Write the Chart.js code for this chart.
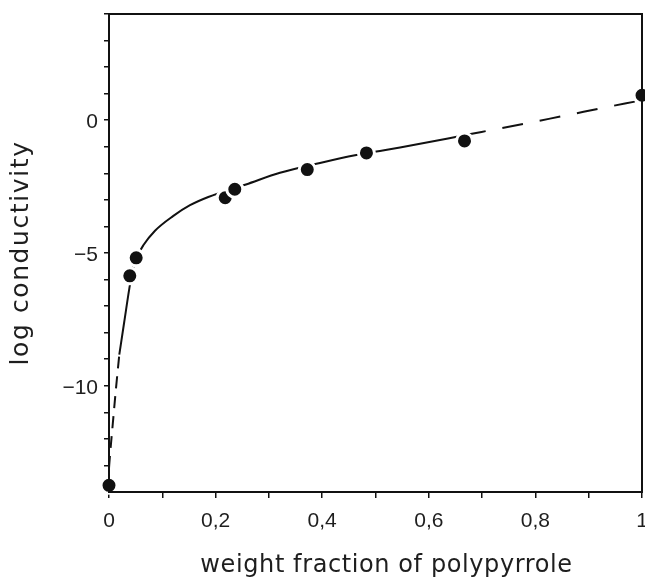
<!DOCTYPE html>
<html><head><meta charset="utf-8">
<script src="https://cdn.jsdelivr.net/npm/chart.js@4/dist/chart.umd.min.js"></script>
<style>html,body{margin:0;padding:0;background:#fff}#wrap{width:645px;height:579px}</style>
</head><body><div id="wrap"><canvas id="c" width="645" height="579"></canvas></div>
<script>
// measured data points
const pointX = [0, 0.039, 0.051, 0.218, 0.236, 0.372, 0.483, 0.667, 1.0];
const pointY = [-13.75, -5.86, -5.18, -2.92, -2.60, -1.86, -1.23, -0.78, 0.94];
// hand-drawn fitted curve
const lowDashX = [0, 0.0013, 0.0071, 0.0131, 0.0193];
const lowDashY = [-13.1, -12.75, -11.43, -10.1, -8.83];
const solidX = [0.0193, 0.0287, 0.0381, 0.0441, 0.0516, 0.0644, 0.0863, 0.1201, 0.152, 0.1863, 0.257, 0.3208, 0.3959, 0.4615, 0.5084, 0.546, 0.636, 0.668];
const solidY = [-8.83, -7.58, -6.34, -5.66, -5.19, -4.71, -4.16, -3.61, -3.20, -2.89, -2.42, -1.98, -1.61, -1.32, -1.16, -1.03, -0.69, -0.56];
const highDashX = [0.668, 0.699, 0.8274, 0.968, 1.0];
const highDashY = [-0.56, -0.44, 0.06, 0.63, 0.75];
// axis labels
const xTickValues = [0, 0.2, 0.4, 0.6, 0.8, 1];
const xTickLabels = ['0', '0,2', '0,4', '0,6', '0,8', '1'];
const yTickValues = [-10, -5, 0];
const yTickLabels = ['\u221210', '\u22125', '0'];
const xTitle = 'weight fraction of polypyrrole';
const yTitle = 'log conductivity';

const toXY = (xs, ys) => xs.map((x, i) => ({x: x, y: ys[i]}));
const ink = '#111';
const textInk = '#1e1e1e';

const framePlugin = {
  id: 'frame',
  afterDatasetsDraw(chart) {
    const {ctx, chartArea: a} = chart;
    ctx.save();
    ctx.strokeStyle = ink;
    ctx.lineWidth = 2;
    ctx.strokeRect(a.left, a.top, a.right - a.left, a.bottom - a.top);
    ctx.restore();
  }
};

// axis titles (spaced lettering as in the original figure)
const titlePlugin = {
  id: 'axisTitles',
  afterDraw(chart) {
    const {ctx, chartArea: a} = chart;
    ctx.save();
    ctx.fillStyle = textInk;
    ctx.textAlign = 'center';
    ctx.textBaseline = 'alphabetic';
    ctx.font = '24px "DejaVu Sans"';
    ctx.letterSpacing = '0.6px';
    ctx.fillText(xTitle, (a.left + a.right) / 2 + 11, 572);
    ctx.font = '25px "DejaVu Sans"';
    ctx.letterSpacing = '1.6px';
    ctx.translate(28, (a.top + a.bottom) / 2);
    ctx.rotate(-Math.PI / 2);
    ctx.fillText(yTitle, 0, 0);
    ctx.restore();
  }
};

const lineCommon = {
  showLine: true, pointRadius: 0, pointHoverRadius: 0, borderColor: ink, borderWidth: 2,
  cubicInterpolationMode: 'monotone', fill: false, order: 2
};

new Chart(document.getElementById('c'), {
  type: 'scatter',
  data: {
    datasets: [
      {data: toXY(pointX, pointY), pointRadius: 8, pointBackgroundColor: ink, pointBorderColor: '#fff',
       pointBorderWidth: 3, showLine: false, clip: false, order: 0},
      Object.assign({data: toXY(lowDashX, lowDashY), borderDash: [12, 8]}, lineCommon),
      Object.assign({data: toXY(solidX, solidY)}, lineCommon),
      Object.assign({data: toXY(highDashX, highDashY), borderDash: [21, 17]}, lineCommon)
    ]
  },
  options: {
    responsive: false, animation: false, devicePixelRatio: 1,
    layout: {autoPadding: false, padding: {left: 0, right: 3, top: 14, bottom: 0}},
    plugins: {legend: {display: false}, tooltip: {enabled: false}},
    scales: {
      x: {
        type: 'linear', min: 0, max: 1,
        afterFit(s) { s.height = 87; s.paddingLeft = 0; s.paddingRight = 0; },
        ticks: {
          stepSize: 0.1, autoSkip: false, maxRotation: 0, padding: 11, color: textInk,
          font: {family: 'Liberation Sans', size: 21},
          callback: (v) => { const i = xTickValues.findIndex(t => Math.abs(t - v) < 1e-6); return i >= 0 ? xTickLabels[i] : ''; }
        },
        grid: {drawOnChartArea: false, drawTicks: true, tickLength: 6, color: ink, lineWidth: 1.5},
        border: {display: true, color: ink, width: 2},
        title: {display: false}
      },
      y: {
        type: 'linear', min: -14, max: 4,
        afterFit(s) { s.width = 109; s.paddingTop = 0; s.paddingBottom = 0; },
        ticks: {
          stepSize: 1, autoSkip: false, padding: 6, labelOffset: 2, color: textInk,
          font: {family: 'Liberation Sans', size: 21},
          callback: (v) => { const i = yTickValues.indexOf(Math.round(v)); return (i >= 0 && Math.abs(v - Math.round(v)) < 1e-6) ? yTickLabels[i] : ''; }
        },
        grid: {drawOnChartArea: false, drawTicks: true, tickLength: 5, color: ink, lineWidth: 1.5},
        border: {display: true, color: ink, width: 2},
        title: {display: false}
      }
    }
  },
  plugins: [framePlugin, titlePlugin]
});
</script></body></html>
